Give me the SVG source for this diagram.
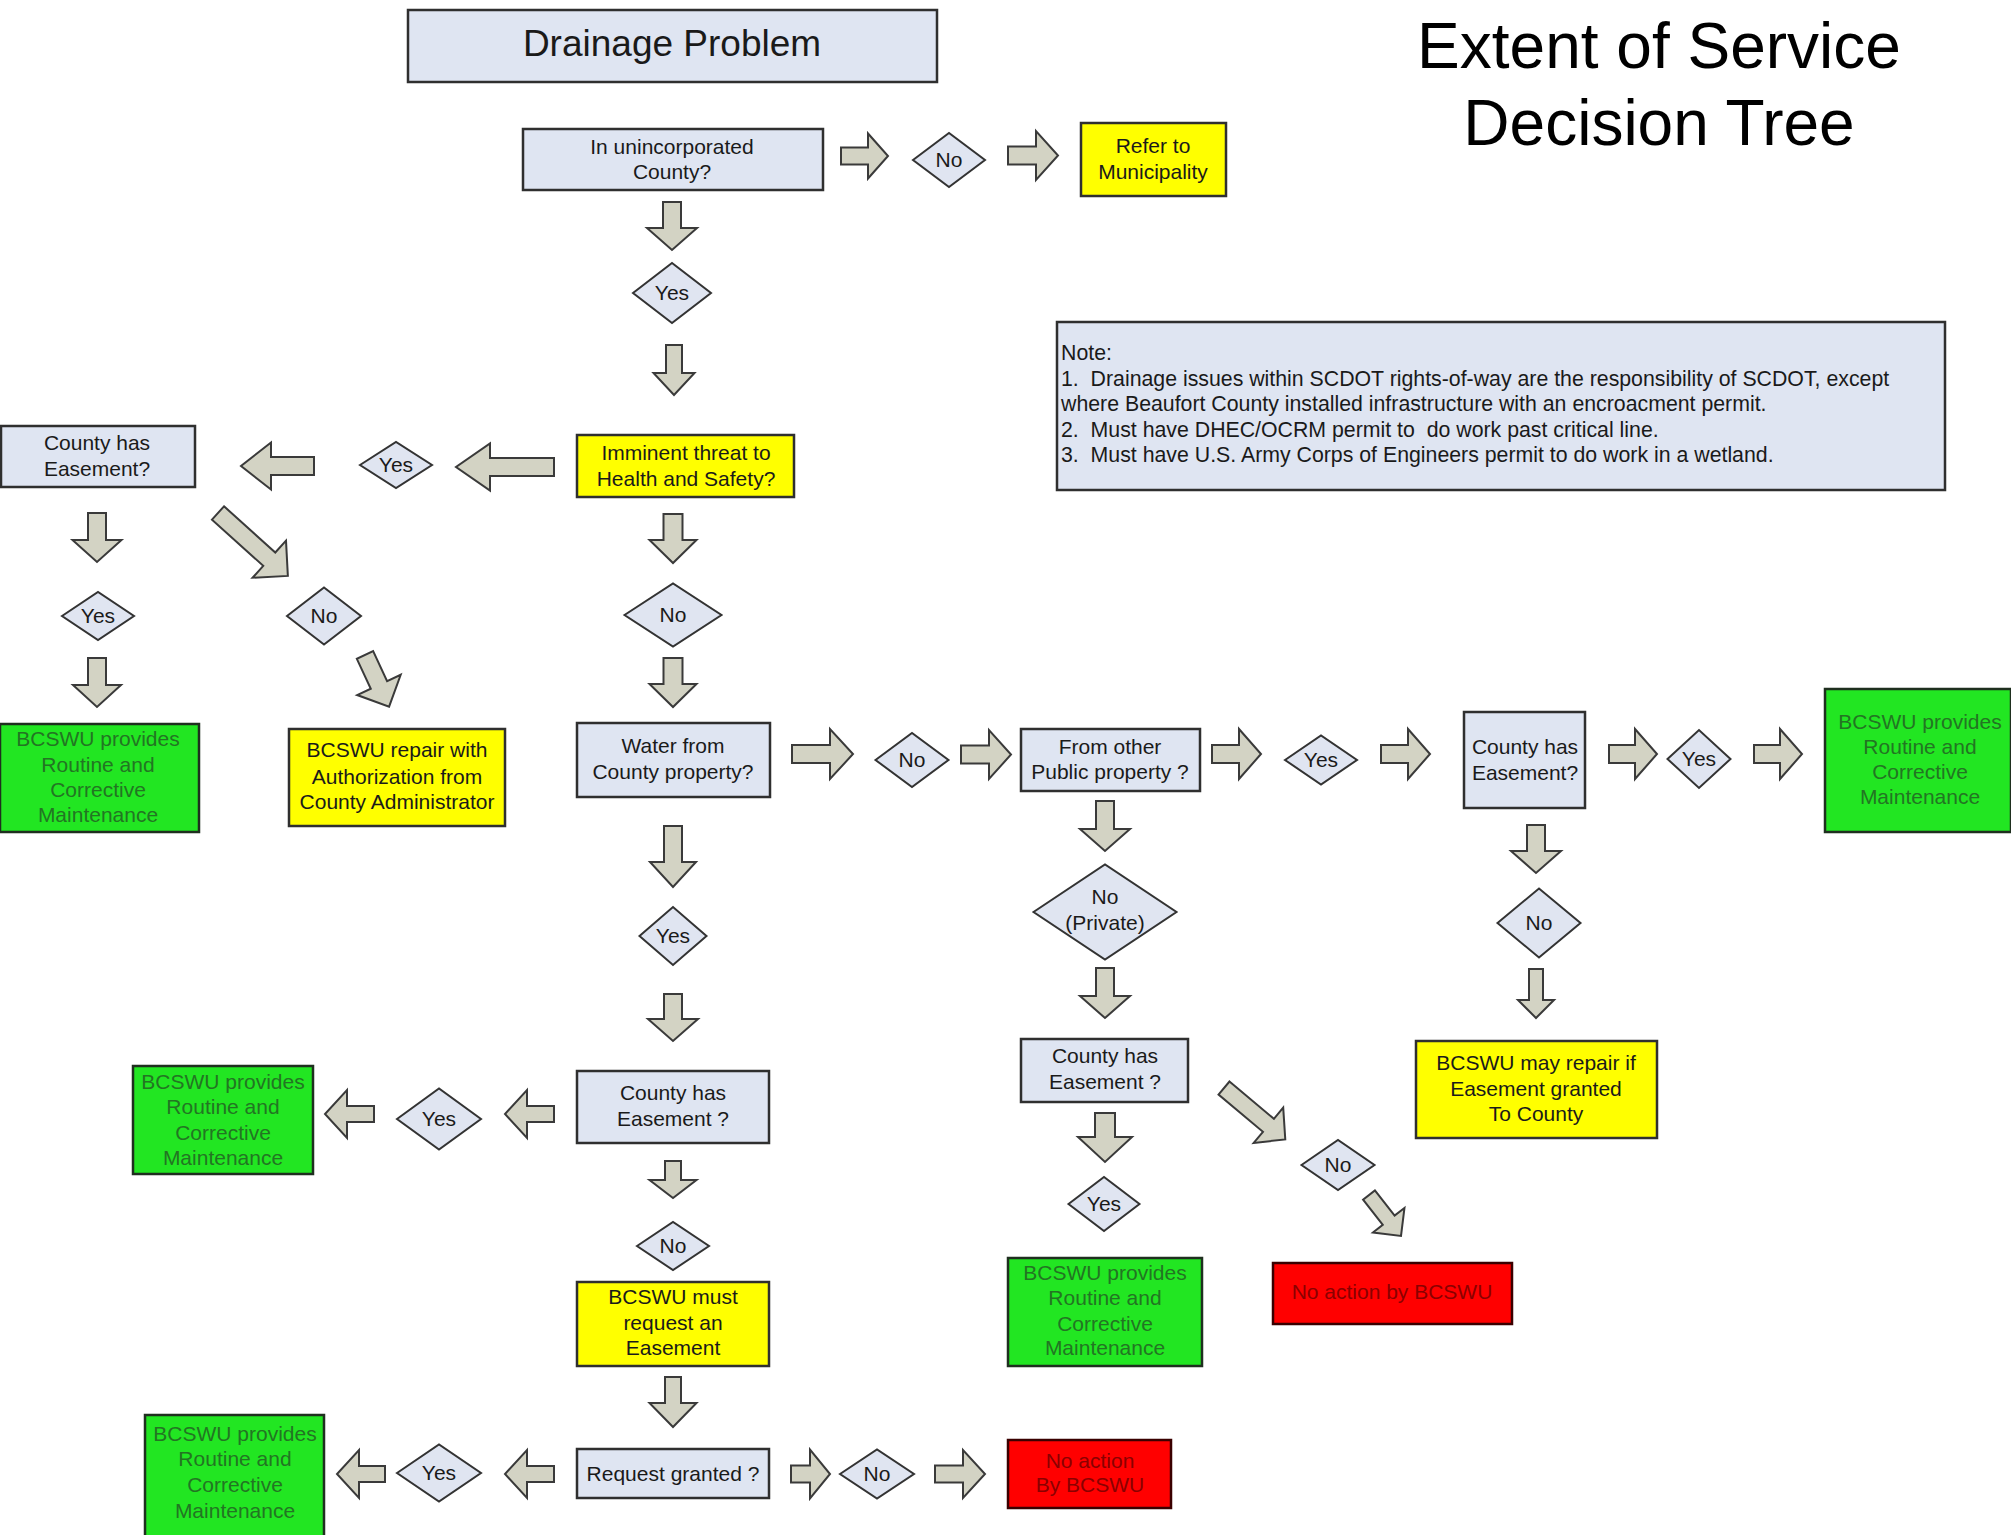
<svg xmlns="http://www.w3.org/2000/svg" width="2011" height="1535" viewBox="0 0 2011 1535">
<style>
text{font-family:"Liberation Sans",Arial,sans-serif;font-size:21px;fill:#1a1a1a;text-anchor:middle}
.box{fill:#dfe5f2;stroke:#2f2f2f;stroke-width:2.5}
.yel{fill:#ffff00;stroke:#2f2f2f;stroke-width:2.5}
.grn{fill:#22e622;stroke:#1f2f1f;stroke-width:2.5}
.red{fill:#ff0000;stroke:#3a0000;stroke-width:2.5}
.dia{fill:#e0e5f1;stroke:#333;stroke-width:2}
.arr{fill:#d3d3c4;stroke:#3a3a3a;stroke-width:2}
.gt{fill:#237523}
.rt{fill:#8a0000}
.note text{text-anchor:start;font-size:21.3px}
.title{font-size:64px;fill:#000}
</style>
<rect width="2011" height="1535" fill="#ffffff"/>

<g id="title"><text class="title" x="1659" y="68">Extent of Service</text><text class="title" x="1659" y="145">Decision Tree</text></g>

<g id="n-drainage"><rect class="box" x="408" y="10" width="529" height="72"/><text x="672" y="56" style="font-size:37px">Drainage Problem</text></g>
<g id="n-unincorp"><rect class="box" x="523" y="129" width="300" height="61"/><text x="672" y="154">In unincorporated</text><text x="672" y="179">County?</text></g>
<g id="d-no1"><polygon class="dia" points="913,160 949,133 985,160 949,187"/><text x="949" y="167">No</text></g>
<g id="n-refer"><rect class="yel" x="1081" y="123" width="145" height="73"/><text x="1153" y="153">Refer to</text><text x="1153" y="179">Municipality</text></g>
<g id="d-yes1"><polygon class="dia" points="633,293 672,263 711,293 672,323"/><text x="672" y="300">Yes</text></g>
<g id="n-imminent"><rect class="yel" x="577" y="435" width="217" height="62"/><text x="686" y="460">Imminent threat to</text><text x="686" y="486">Health and Safety?</text></g>
<g id="d-yes2"><polygon class="dia" points="360,465 396,442 432,465 396,488"/><text x="396" y="472">Yes</text></g>
<g id="n-easement1"><rect class="box" x="1" y="426" width="194" height="61"/><text x="97" y="450">County has</text><text x="97" y="476">Easement?</text></g>
<g id="d-yes3"><polygon class="dia" points="62,616 98,592 134,616 98,640"/><text x="98" y="623">Yes</text></g>
<g id="d-no2"><polygon class="dia" points="287,616 324,587.5 361,616 324,644.5"/><text x="324" y="623">No</text></g>
<g id="n-green1"><rect class="grn" x="0" y="724" width="199" height="108"/><text class="gt" x="98" y="746">BCSWU provides</text><text class="gt" x="98" y="772">Routine and</text><text class="gt" x="98" y="797">Corrective</text><text class="gt" x="98" y="822">Maintenance</text></g>
<g id="n-repair"><rect class="yel" x="289" y="729" width="216" height="97"/><text x="397" y="757">BCSWU repair with</text><text x="397" y="784">Authorization from</text><text x="397" y="809">County Administrator</text></g>
<g id="d-no3"><polygon class="dia" points="624.5,615 673,583.5 721.5,615 673,646.5"/><text x="673" y="622">No</text></g>
<g id="n-water"><rect class="box" x="577" y="723" width="193" height="74"/><text x="673" y="753">Water from</text><text x="673" y="779">County property?</text></g>
<g id="d-yes4"><polygon class="dia" points="639.5,936 673,907 706.5,936 673,965"/><text x="673" y="943">Yes</text></g>
<g id="n-easement2"><rect class="box" x="577" y="1071" width="192" height="72"/><text x="673" y="1100">County has</text><text x="673" y="1126">Easement ?</text></g>
<g id="d-yes5"><polygon class="dia" points="397,1119 439,1088.5 481,1119 439,1149.5"/><text x="439" y="1126">Yes</text></g>
<g id="n-green2"><rect class="grn" x="133" y="1066" width="180" height="108"/><text class="gt" x="223" y="1089">BCSWU provides</text><text class="gt" x="223" y="1114">Routine and</text><text class="gt" x="223" y="1140">Corrective</text><text class="gt" x="223" y="1165">Maintenance</text></g>
<g id="d-no4"><polygon class="dia" points="637,1246 673,1222 709,1246 673,1270"/><text x="673" y="1253">No</text></g>
<g id="n-request"><rect class="yel" x="577" y="1282" width="192" height="84"/><text x="673" y="1304">BCSWU must</text><text x="673" y="1330">request an</text><text x="673" y="1355">Easement</text></g>
<g id="n-granted"><rect class="box" x="577" y="1449" width="192" height="49"/><text x="673" y="1481">Request granted ?</text></g>
<g id="d-yes6"><polygon class="dia" points="397,1473 439,1444.5 481,1473 439,1501.5"/><text x="439" y="1480">Yes</text></g>
<g id="n-green3"><rect class="grn" x="145" y="1415" width="179" height="125"/><text class="gt" x="235" y="1441">BCSWU provides</text><text class="gt" x="235" y="1466">Routine and</text><text class="gt" x="235" y="1492">Corrective</text><text class="gt" x="235" y="1518">Maintenance</text></g>
<g id="d-no5"><polygon class="dia" points="840,1474 877,1449.5 914,1474 877,1498.5"/><text x="877" y="1481">No</text></g>
<g id="n-red1"><rect class="red" x="1008" y="1440" width="163" height="68"/><text class="rt" x="1090" y="1468">No action</text><text class="rt" x="1090" y="1492">By BCSWU</text></g>
<g id="d-no6"><polygon class="dia" points="875.5,760 912,733 948.5,760 912,787"/><text x="912" y="767">No</text></g>
<g id="n-public"><rect class="box" x="1021" y="729" width="179" height="62"/><text x="1110" y="754">From other</text><text x="1110" y="779">Public property ?</text></g>
<g id="d-yes7"><polygon class="dia" points="1285,760 1321,735.5 1357,760 1321,784.5"/><text x="1321" y="767">Yes</text></g>
<g id="n-easement3"><rect class="box" x="1464" y="712" width="121" height="96"/><text x="1525" y="754">County has</text><text x="1525" y="780">Easement?</text></g>
<g id="d-yes8"><polygon class="dia" points="1667.5,759 1699,730 1730.5,759 1699,788"/><text x="1699" y="766">Yes</text></g>
<g id="n-green4"><rect class="grn" x="1825" y="689" width="186" height="143"/><text class="gt" x="1920" y="729">BCSWU provides</text><text class="gt" x="1920" y="754">Routine and</text><text class="gt" x="1920" y="779">Corrective</text><text class="gt" x="1920" y="804">Maintenance</text></g>
<g id="d-private"><polygon class="dia" points="1033.5,912 1105,864.5 1176.5,912 1105,959.5"/><text x="1105" y="904">No</text><text x="1105" y="930">(Private)</text></g>
<g id="d-no7"><polygon class="dia" points="1497.5,923 1539,888.5 1580.5,923 1539,957.5"/><text x="1539" y="930">No</text></g>
<g id="n-easement4"><rect class="box" x="1021" y="1039" width="167" height="63"/><text x="1105" y="1063">County has</text><text x="1105" y="1089">Easement ?</text></g>
<g id="n-mayrepair"><rect class="yel" x="1416" y="1041" width="241" height="97"/><text x="1536" y="1070">BCSWU may repair if</text><text x="1536" y="1096">Easement granted</text><text x="1536" y="1121">To County</text></g>
<g id="d-yes9"><polygon class="dia" points="1068.5,1204 1104,1177 1139.5,1204 1104,1231"/><text x="1104" y="1211">Yes</text></g>
<g id="d-no8"><polygon class="dia" points="1301.5,1165 1338,1140 1374.5,1165 1338,1190"/><text x="1338" y="1172">No</text></g>
<g id="n-green5"><rect class="grn" x="1008" y="1258" width="194" height="108"/><text class="gt" x="1105" y="1280">BCSWU provides</text><text class="gt" x="1105" y="1305">Routine and</text><text class="gt" x="1105" y="1331">Corrective</text><text class="gt" x="1105" y="1355">Maintenance</text></g>
<g id="n-red2"><rect class="red" x="1273" y="1263" width="239" height="61"/><text class="rt" x="1392" y="1299">No action by BCSWU</text></g>

<g id="note" class="note"><rect class="box" x="1057" y="322" width="888" height="168"/>
<text x="1061" y="360">Note:</text>
<text x="1061" y="386" xml:space="preserve">1.  Drainage issues within SCDOT rights-of-way are the responsibility of SCDOT, except</text>
<text x="1061" y="411">where Beaufort County installed infrastructure with an encroacment permit.</text>
<text x="1061" y="437" xml:space="preserve">2.  Must have DHEC/OCRM permit to  do work past critical line.</text>
<text x="1061" y="462" xml:space="preserve">3.  Must have U.S. Army Corps of Engineers permit to do work in a wetland.</text>
</g>

<g id="connectors" class="arr">
<path d="M0,-8.5H27V-22.5L47,0L27,22.5V8.5H0Z" transform="translate(841,156)"/>
<path d="M0,-9H28V-24.5L50,0L28,24.5V9H0Z" transform="translate(1008,155.5)"/>
<path d="M0,-9H26V-25L48,0L26,25V9H0Z" transform="translate(672,202) rotate(90)"/>
<path d="M0,-8H28V-20.5L50,0L28,20.5V8H0Z" transform="translate(674,345) rotate(90)"/>
<path d="M0,-9H64V-23.5L98,0L64,23.5V9H0Z" transform="translate(554,467) rotate(180)"/>
<path d="M0,-9H43V-23.5L73,0L43,23.5V9H0Z" transform="translate(314,466) rotate(180)"/>
<path d="M0,-9H27V-24.5L49,0L27,24.5V9H0Z" transform="translate(97,513) rotate(90)"/>
<path d="M0,-9H69V-25L94,0L69,25V9H0Z" transform="translate(218,513) rotate(42)"/>
<path d="M0,-9H27V-24L49,0L27,24V9H0Z" transform="translate(97,658) rotate(90)"/>
<path d="M0,-9H33V-24L57,0L33,24V9H0Z" transform="translate(365,655) rotate(65)"/>
<path d="M0,-9.5H26V-23.5L49,0L26,23.5V9.5H0Z" transform="translate(673,514) rotate(90)"/>
<path d="M0,-9.5H26V-23.5L49,0L26,23.5V9.5H0Z" transform="translate(673,658) rotate(90)"/>
<path d="M0,-9H36V-23L61,0L36,23V9H0Z" transform="translate(673,826) rotate(90)"/>
<path d="M0,-9H25V-25L47,0L25,25V9H0Z" transform="translate(673,994) rotate(90)"/>
<path d="M0,-8H27V-24L49,0L27,24V8H0Z" transform="translate(554,1114) rotate(180)"/>
<path d="M0,-8H27V-24L49,0L27,24V8H0Z" transform="translate(374,1114) rotate(180)"/>
<path d="M0,-8H19V-23.5L37,0L19,23.5V8H0Z" transform="translate(673,1161) rotate(90)"/>
<path d="M0,-8H26V-23.5L50,0L26,23.5V8H0Z" transform="translate(673,1377) rotate(90)"/>
<path d="M0,-8H27V-24L49,0L27,24V8H0Z" transform="translate(554,1474) rotate(180)"/>
<path d="M0,-8H26V-24L48,0L26,24V8H0Z" transform="translate(385,1474) rotate(180)"/>
<path d="M0,-8.5H19V-24.5L39,0L19,24.5V8.5H0Z" transform="translate(791,1474)"/>
<path d="M0,-8.5H28V-24L50,0L28,24V8.5H0Z" transform="translate(935,1474)"/>
<path d="M0,-9H38V-25L61,0L38,25V9H0Z" transform="translate(792,754)"/>
<path d="M0,-9H28V-24.5L50,0L28,24.5V9H0Z" transform="translate(961,754.5)"/>
<path d="M0,-9H27V-25L49,0L27,25V9H0Z" transform="translate(1212,754)"/>
<path d="M0,-9H27V-25L49,0L27,25V9H0Z" transform="translate(1381,754)"/>
<path d="M0,-9H26V-25L48,0L26,25V9H0Z" transform="translate(1609,754)"/>
<path d="M0,-9H26V-25L48,0L26,25V9H0Z" transform="translate(1754,754)"/>
<path d="M0,-9H28V-25L50,0L28,25V9H0Z" transform="translate(1105,801) rotate(90)"/>
<path d="M0,-9H28V-25L50,0L28,25V9H0Z" transform="translate(1105,968) rotate(90)"/>
<path d="M0,-10H24V-27L49,0L24,27V10H0Z" transform="translate(1105,1113) rotate(90)"/>
<path d="M0,-8.5H58V-23L80,0L58,23V8.5H0Z" transform="translate(1224,1088) rotate(40)"/>
<path d="M0,-7.5H32V-20L52,0L32,20V7.5H0Z" transform="translate(1369,1195) rotate(52)"/>
<path d="M0,-9H26V-25L48,0L26,25V9H0Z" transform="translate(1536,825) rotate(90)"/>
<path d="M0,-7H31V-18L49,0L31,18V7H0Z" transform="translate(1536,969) rotate(90)"/>
</g>
</svg>
